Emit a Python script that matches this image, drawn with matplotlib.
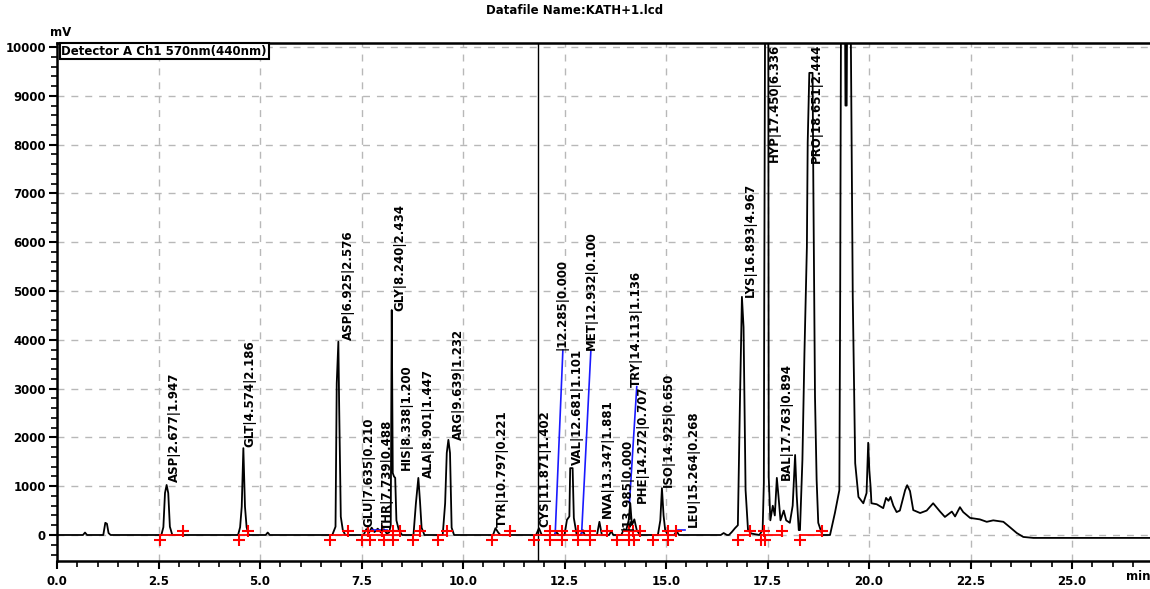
import matplotlib
matplotlib.use("Agg")
import matplotlib.pyplot as plt
from matplotlib.ticker import MultipleLocator, FixedLocator

# ---------------- data ----------------
trace_t = [0.0, 0.64, 0.69, 0.74, 1.14, 1.19, 1.23, 1.27, 1.32,
           2.57, 2.62, 2.66, 2.70, 2.74, 2.78, 2.84,
           4.46, 4.51, 4.55, 4.59, 4.63, 4.67, 4.72,
           5.14, 5.19, 5.24,
           6.78, 6.86, 6.89, 6.93, 6.95, 6.99, 7.04, 7.10,
           7.55, 7.62, 7.68, 7.75, 7.82, 7.90, 7.98, 8.05, 8.12,
           8.18, 8.22, 8.245, 8.27, 8.30, 8.33, 8.36, 8.42, 8.50,
           8.78, 8.84, 8.90, 8.94, 8.98, 9.05,
           9.50, 9.56, 9.60, 9.64, 9.68, 9.72, 9.78,
           10.74, 10.80, 10.86, 10.92,
           11.80, 11.87, 11.94,
           12.25, 12.30, 12.36,
           12.50, 12.56, 12.62, 12.64, 12.70, 12.73, 12.80,
           12.90, 12.95, 13.00,
           13.30, 13.36, 13.42,
           13.60, 13.65, 13.70,
           13.90, 13.96, 14.02, 14.08, 14.12, 14.16, 14.22, 14.28, 14.36,
           14.80, 14.86, 14.90, 14.94, 14.98, 15.05,
           15.20, 15.26, 15.32,
           16.35, 16.42, 16.50,
           16.55, 16.62, 16.70, 16.77, 16.82, 16.87, 16.91, 16.96, 17.02, 17.10, 17.30,
           17.38, 17.41, 17.42, 17.44, 17.52, 17.53, 17.57, 17.63,
           17.68, 17.73, 17.77, 17.82, 17.90, 17.96, 18.05, 18.12, 18.18, 18.22, 18.27,
           18.30, 18.36, 18.41, 18.47, 18.49, 18.53, 18.61, 18.63, 18.67, 18.71, 18.75, 18.85, 19.04,
           19.16, 19.27, 19.29, 19.31, 19.41, 19.42, 19.45, 19.46, 19.55, 19.60, 19.66, 19.74,
           19.86, 19.94, 19.98, 20.01, 20.04, 20.06, 20.19, 20.35, 20.42, 20.48, 20.53, 20.60,
           20.68, 20.76, 20.89, 20.94, 21.01, 21.09, 21.26, 21.42, 21.58, 21.75, 21.87, 22.04,
           22.12, 22.24, 22.32, 22.49, 22.73, 22.90, 23.06, 23.31, 23.47, 23.64, 23.80, 24.05,
           26.95]
trace_mv = [0, 0, 50, 0, 0, 250, 230, 40, 0,
            0, 160, 860, 1025, 860, 170, 0,
            0, 160, 580, 1780, 580, 160, 0,
            0, 50, 0,
            0, 170, 3110, 3960, 2630, 375, 100, 0,
            0, 120, 40, 150, 60, 130, 50, 120, 30,
            50, 200, 4610, 1270, 1200, 1170, 300, 100, 0,
            0, 650, 1170, 700, 150, 0,
            0, 650, 1680, 1950, 1680, 150, 0,
            0, 140, 60, 0,
            0, 140, 0,
            0, 60, 0,
            0, 310, 380, 1370, 1370, 350, 0,
            0, 100, 0,
            0, 270, 0,
            0, 80, 0,
            0, 120, 100, 300, 650, 200, 320, 100, 0,
            0, 300, 960, 400, 100, 0,
            0, 80, 0,
            0, 40, 0,
            0, 60, 140, 200, 2660, 4880, 4260, 920, 100, 30, 0,
            100, 1070, 4880, 10500, 10500, 1190, 300, 600,
            400, 1170, 800, 300, 500, 300, 250, 600, 1640, 800, 100,
            100, 1540, 3730, 5900, 8040, 9470, 9470, 7070, 2830, 1130, 250, 0, 0,
            450, 920, 4880, 10500, 10500, 8800, 8800, 10500, 10500, 4880, 1470, 780,
            650, 860, 1890, 1300, 980, 650, 630, 550, 760, 700, 780, 600,
            470, 500, 920, 1020, 900, 510, 450, 500, 650, 480, 370, 480,
            380, 570, 470, 350, 320, 270, 300, 270, 160, 40, -40, -60,
            -60]

peak_names = ["ASP", "GLT", "ASP", "GLU", "THR", "GLY", "HIS", "ALA", "ARG",
              "TYR", "CYS", "", "VAL", "MET", "NVA", "", "TRY", "PHE", "ISO",
              "LEU", "LYS", "HYP", "BAL", "PRO"]
peak_rt = ["2.677", "4.574", "6.925", "7.635", "7.739", "8.240", "8.338", "8.901",
           "9.639", "10.797", "11.871", "12.285", "12.681", "12.932", "13.347",
           "13.985", "14.113", "14.272", "14.925", "15.264", "16.893", "17.450",
           "17.763", "18.651"]
peak_conc = ["1.947", "2.186", "2.576", "0.210", "0.488", "2.434", "1.200", "1.447",
             "1.232", "0.221", "1.402", "0.000", "1.101", "0.100", "1.881", "0.000",
             "1.136", "0.707", "0.650", "0.268", "4.967", "6.336", "0.894", "2.444"]

# integration start / end times (red baseline marks)
int_start = [2.54, 4.48, 6.72, 7.50, 7.70, 8.05, 8.28, 8.78, 9.38, 10.71, 11.75,
             12.14, 12.44, 12.83, 13.13, 13.80, 14.10, 14.20, 14.68, 15.05,
             16.77, 17.33, 17.45, 18.30]
int_end = [3.10, 4.70, 7.17, 7.66, 8.00, 8.28, 8.45, 8.94, 9.61, 11.16, 12.14,
           12.44, 12.83, 13.13, 13.55, 14.10, 14.19, 14.36, 15.05, 15.25,
           17.07, 17.41, 17.86, 18.84]

# blue manual lines (time, mV) pairs
blue_t = [[12.27, 12.46], [12.92, 13.15], [14.10, 14.28], [7.77, 8.13], [15.30, 15.47]]
blue_mv = [[0, 3790], [0, 3790], [650, 3040], [100, 100], [100, 100]]

inject_line_t = 11.85

title_text = "Datafile Name:KATH+1.lcd"
legend_text = "Detector A Ch1 570nm(440nm)"
ytick_vals = [0, 1000, 2000, 3000, 4000, 5000, 6000, 7000, 8000, 9000, 10000]
xtick_vals = [0.0, 2.5, 5.0, 7.5, 10.0, 12.5, 15.0, 17.5, 20.0, 22.5, 25.0]

# ---------------- layout ----------------
label_x = [2.90, 4.75, 7.17, 7.68, 8.13, 8.45, 8.60, 9.14, 9.88, 10.96, 12.02,
           12.44, 12.81, 13.16, 13.55, 14.04, 14.26, 14.43, 15.05, 15.67,
           17.07, 17.68, 17.97, 18.71]
label_y = [1080, 1800, 4000, 160, 110, 4600, 1330, 1170, 1950, 160, 160,
           3790, 1430, 3790, 350, 100, 3030, 650, 980, 160,
           4880, 7650, 1130, 7630]

W, H = 1150, 589
fig = plt.figure(figsize=(W / 100, H / 100), dpi=100)
ax = fig.add_axes([57 / W, 1 - 561 / H, 1 - 57 / W, (561 - 43) / H])
ax.set_xlim(0, (W - 57) / 40.6)
ax.set_ylim(-533, 10082)

bold = dict(family="DejaVu Sans", weight="bold")

ax.grid(True, which="major", color="#b8b8b8", lw=1.0, ls=(0, (5, 5)))
ax.set_axisbelow(True)

ax.plot(trace_t, trace_mv, color="black", lw=1.3, zorder=3)
ax.axvline(inject_line_t, color="black", lw=1.0, zorder=3)

for bt, bv in zip(blue_t, blue_mv):
    ax.plot(bt, bv, color="#1a1aff", lw=1.2, zorder=4)

for s, e in zip(int_start, int_end):
    ax.plot([s, e], [0, 0], color="red", lw=1.3, zorder=4)
ax.plot(int_start, [-100] * len(int_start), ls="none", marker="+", ms=8, mew=1.5,
        color="red", zorder=5)
ax.plot(int_end, [80] * len(int_end), ls="none", marker="+", ms=8, mew=1.5,
        color="red", zorder=5)

for n, rt, c, lx, ly in zip(peak_names, peak_rt, peak_conc, label_x, label_y):
    ax.text(lx, ly, f"{n}|{rt}|{c}", rotation=90, ha="center", va="bottom",
            fontsize=8.5, zorder=6, clip_on=True, **bold)

ax.xaxis.set_major_locator(FixedLocator(xtick_vals))
ax.xaxis.set_minor_locator(MultipleLocator(0.5))
ax.yaxis.set_major_locator(FixedLocator(ytick_vals))
ax.yaxis.set_minor_locator(MultipleLocator(200))
ax.set_xticklabels([f"{v:.1f}" for v in xtick_vals])
ax.set_yticklabels([str(v) for v in ytick_vals])
ax.tick_params(axis="both", which="major", direction="out", length=6, width=1.5,
               labelsize=8.5, pad=2)
ax.tick_params(axis="both", which="minor", direction="out", length=4, width=1.2)
for lab in ax.get_xticklabels() + ax.get_yticklabels():
    lab.set_fontweight("bold")
ax.tick_params(axis="x", pad=4)

ax.spines["right"].set_visible(False)
for sp in ["left", "top", "bottom"]:
    ax.spines[sp].set_linewidth(1.8)

# legend box
ax.text(0.004, 0.997, legend_text, transform=ax.transAxes, ha="left", va="top",
        fontsize=8.5, zorder=7,
        bbox=dict(boxstyle="square,pad=0.15", fc="white", ec="black", lw=1.5), **bold)

fig.text(575 / W, 1 - 10 / H, title_text, ha="center", va="center", fontsize=8.5, **bold)
fig.text(50 / W, 1 - 33 / H, "mV", ha="left", va="center", fontsize=8.5, **bold)
fig.text(1126 / W, 1 - 577 / H, "min", ha="left", va="center", fontsize=8.5, **bold)

fig.savefig("out.png", dpi=100)
